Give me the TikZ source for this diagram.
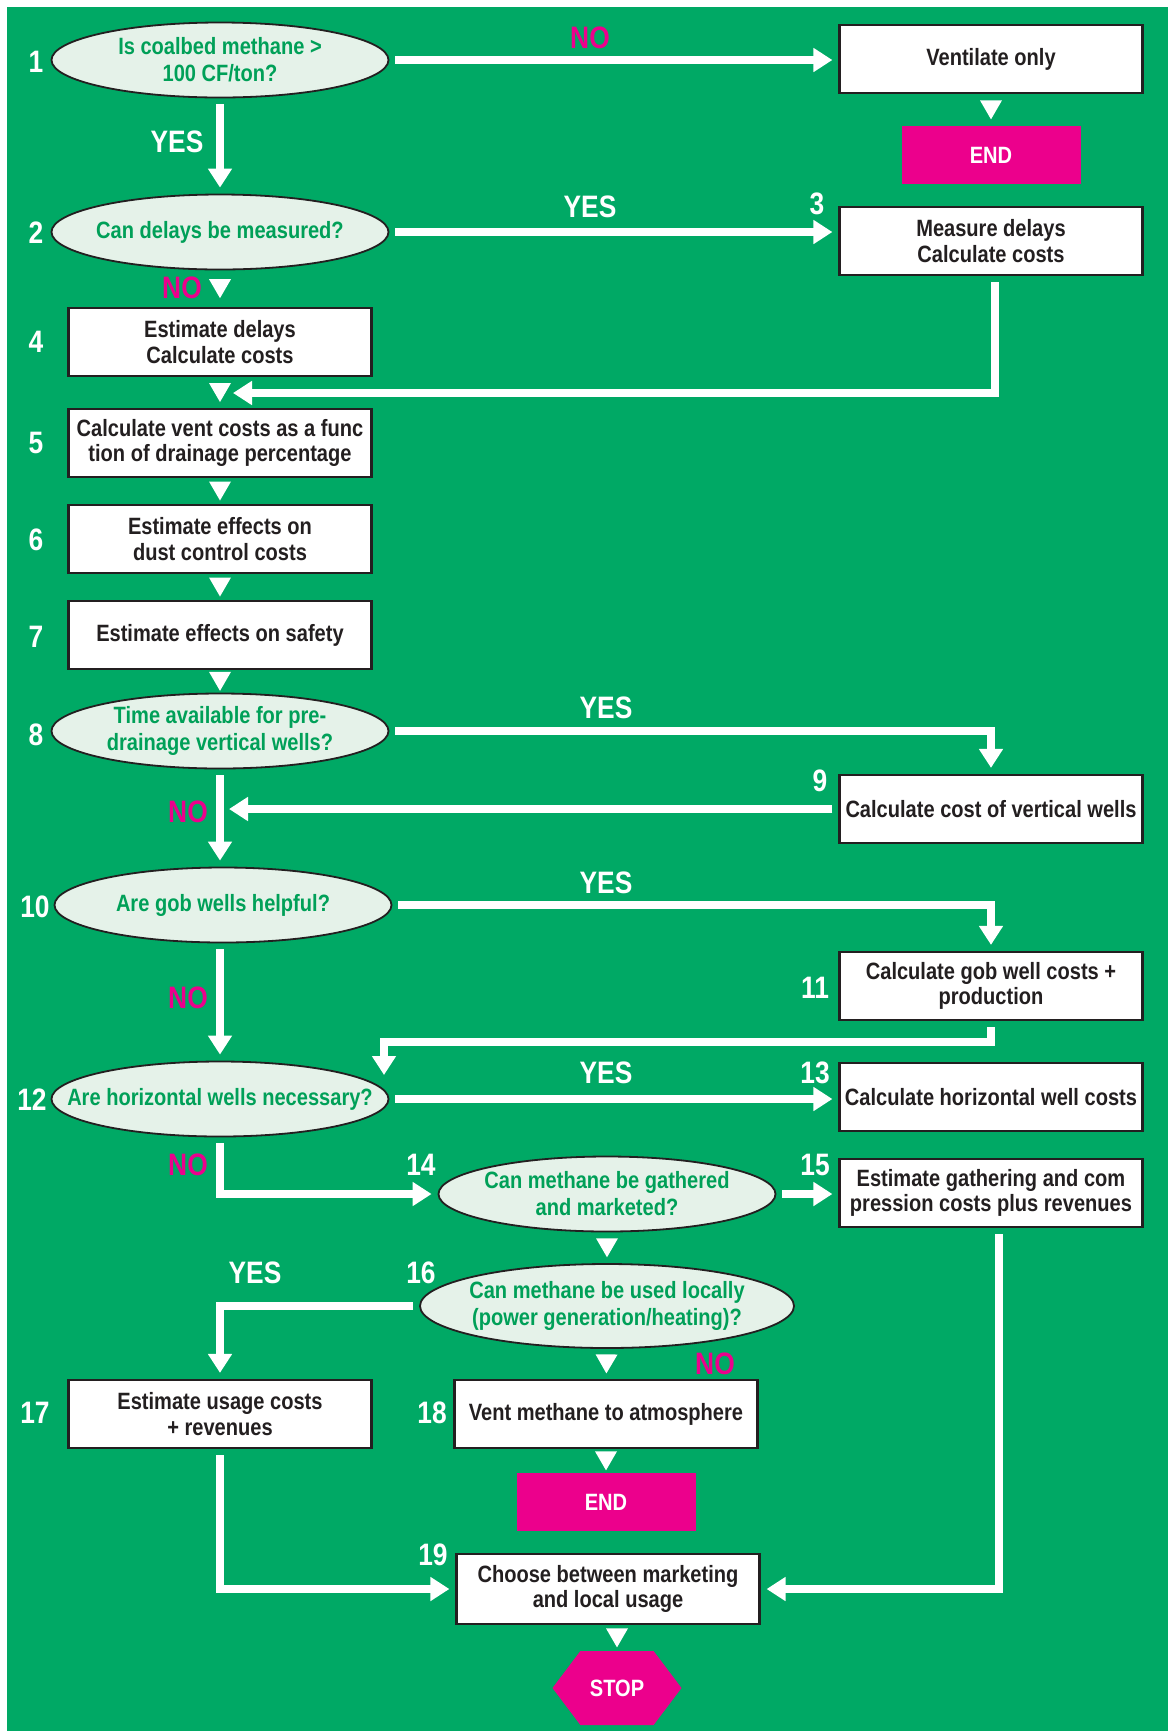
\documentclass[tikz,border=0pt]{standalone}
\usepackage{fontspec}
\setmainfont{Liberation Sans}[FakeStretch=0.85]
\usetikzlibrary{arrows.meta,shapes.geometric,shapes.symbols,decorations.markings}
\definecolor{bggreen}{RGB}{0,169,101}
\definecolor{decfill}{RGB}{229,242,233}
\definecolor{dectext}{RGB}{0,160,88}
\definecolor{hotpink}{RGB}{236,0,140}
\definecolor{ink}{RGB}{35,31,32}
\tikzset{
  box/.style={draw=ink, line width=1.1pt, fill=white, text=ink, minimum height=34pt,
    minimum width=151.5pt, inner xsep=1pt, inner ysep=2pt, align=center,
    font=\bfseries\fontsize{11.8}{12.6}\selectfont},
  dec/.style={ellipse, draw=ink, line width=0.9pt, fill=decfill, minimum width=168.5pt,
    minimum height=37.5pt, inner sep=0pt},
  dectxt/.style={text=dectext, align=center, inner sep=0pt, font=\bfseries\fontsize{11.8}{13.5}\selectfont},
  endbox/.style={fill=hotpink, text=white, minimum width=89.5pt, minimum height=29pt,
    font=\bfseries\fontsize{11.8}{12.6}\selectfont},
  stopsign/.style={signal, signal to=east and west, signal pointer angle=106, fill=hotpink,
    text=white, minimum width=64.5pt, minimum height=37pt, inner sep=0pt,
    font=\bfseries\fontsize{11.8}{12.6}\selectfont},
  flow/.style={draw=white, line width=4pt, -{Triangle[width=11.5pt,length=9.5pt]},
    shorten <=3pt, shorten >=3pt},
  gaptri/.style={postaction={decorate}, decoration={markings, mark=at position 0.5 with
    {\fill[white] (4.75pt,0pt) -- (-4.75pt,5.5pt) -- (-4.75pt,-5.5pt) -- cycle;}}},
  numlbl/.style={text=white, inner sep=0pt, font=\bfseries\fontsize{15.5}{16}\selectfont},
  yeslbl/.style={numlbl},
  nolbl/.style={numlbl, text=hotpink}
}
\begin{document}
\begin{tikzpicture}[x=0.5pt, y=-0.5pt]
    % background
    \fill[white] (0,0) rectangle (1168,1731);
    \fill[bggreen] (7,7) rectangle (1168,1731);
    \useasboundingbox (0,0) rectangle (1168,1731);

    % decisions and steps
    \node[dec, label={[dectxt]center:{Is coalbed methane >\\100 CF/ton?}}] (e1) at (220,60) {};
    \node[box] (vent) at (991,59) {Ventilate only};
    \node[endbox] (end1) at (991,155) {END};
    \node[dec, label={[dectxt]center:{Can delays be measured?}}] (e2) at (220,232) {};
    \node[box] (b3) at (991,241) {Measure delays\\Calculate costs};
    \node[box] (b4) at (220,342) {Estimate delays\\Calculate costs};
    \node[box] (b5) at (220,443) {Calculate vent costs as a func\\tion of drainage percentage};
    \node[box] (b6) at (220,539) {Estimate effects on\\dust control costs};
    \node[box] (b7) at (220,635) {Estimate effects on safety};
    \node[dec, label={[dectxt]center:{Time available for pre-\\drainage vertical wells?}}] (e8) at (220,731) {};
    \node[box] (b9) at (991,809) {Calculate cost of vertical wells};
    \node[dec, label={[dectxt]center:{Are gob wells helpful?}}] (e10) at (223,905) {};
    \node[box] (b11) at (991,986) {Calculate gob well costs +\\production};
    \node[dec, label={[dectxt]center:{Are horizontal wells necessary?}}] (e12) at (220,1099) {};
    \node[box] (b13) at (991,1097) {Calculate horizontal well costs};
    \node[dec, label={[dectxt]center:{Can methane be gathered\\and marketed?}}] (e14) at (607,1194) {};
    \node[box] (b15) at (991,1193) {Estimate gathering and com\\pression costs plus revenues};
    \node[dec, minimum width=187pt, minimum height=42pt,
      label={[dectxt]center:{Can methane be used locally\\(power generation/heating)?}}] (e16) at (607,1306) {};
    \node[box] (b17) at (220,1414) {Estimate usage costs\\+ revenues};
    \node[box] (b18) at (606,1414) {Vent methane to atmosphere};
    \node[endbox] (end2) at (606,1502) {END};
    \node[box, minimum height=35pt] (b19) at (608,1589) {Choose between marketing\\and local usage};
    \node[stopsign] (stop) at (617,1688) {STOP};

    % step numbers
    \foreach \n/\x/\y in {1/36/62, 2/36/233, 3/817/204, 4/36/342, 5/36/443, 6/36/540,
        7/36/637, 8/36/735, 9/820/781, 10/35/907, 11/815/988, 12/32/1100, 13/815/1073,
        14/421/1165, 15/815/1165, 16/421/1273, 17/35/1413, 18/432/1413, 19/433/1555}
        \node[numlbl] (n\n) at (\x,\y) {\n};

    % answers
    \node[nolbl] (no1) at (590,38) {NO};
    \node[yeslbl] (yes1) at (177,142) {YES};
    \node[yeslbl] (yes2) at (590,207) {YES};
    \node[nolbl] (no2) at (182,288) {NO};
    \node[yeslbl] (yes8) at (606,708) {YES};
    \node[nolbl] (no8) at (188,812) {NO};
    \node[yeslbl] (yes10) at (606,883) {YES};
    \node[nolbl] (no10) at (188,998) {NO};
    \node[yeslbl] (yes12) at (606,1073) {YES};
    \node[nolbl] (no12) at (188,1165) {NO};
    \node[yeslbl] (yes16) at (255,1273) {YES};
    \node[nolbl] (no16) at (715,1364) {NO};

    % connectors
    \coordinate (j5) at (233,393);
    \coordinate (j9) at (229,809);
    \coordinate (j12) at (384,1042);
    \coordinate (k12) at (384,1075);

    \draw[flow] (e1.east) -- (e1.east -| vent.west);
    \draw[flow] (e1) -- (e2);
    \draw[flow] (e2.east) -- (e2.east -| b3.west);
    \draw[flow, shorten >=0pt] ([xshift=2pt]b3.south) |- (j5);
    \draw[flow] (e8.east) -| (b9.north);
    \draw[flow, shorten >=0pt] (b9.west) -- (j9);
    \draw[flow] (e8.south) -- (e8.south |- e10.north);
    \draw[flow] (e10.east) -| (b11.north);
    \draw[flow] (e10.south -| e12.north) -- (e12.north);
    \draw[flow, shorten >=0pt] (b11.south) |- (j12) -- (k12);
    \draw[flow] (e12.east) -- (e12.east -| b13.west);
    \draw[flow] (e12.south) |- (e14.west);
    \draw[flow] (e14.east) -- (e14.east -| b15.west);
    \draw[flow] (e16.west) -| (b17.north);
    \draw[flow] (b17.south) |- (b19.west);
    \draw[flow] ([xshift=4pt]b15.south) |- (b19.east);

    \path[gaptri] (vent) -- (end1);
    \path[gaptri] (e2) -- (b4);
    \path[gaptri] (b4) -- (b5);
    \path[gaptri] (b5) -- (b6);
    \path[gaptri] (b6) -- (b7);
    \path[gaptri] (b7) -- (e8);
    \path[gaptri] (e14) -- (e16);
    \path[gaptri] (e16) -- (b18);
    \path[gaptri] (b18) -- (end2);
    \path[gaptri] (b19.south -| stop) -- (stop);
\end{tikzpicture}
\end{document}
